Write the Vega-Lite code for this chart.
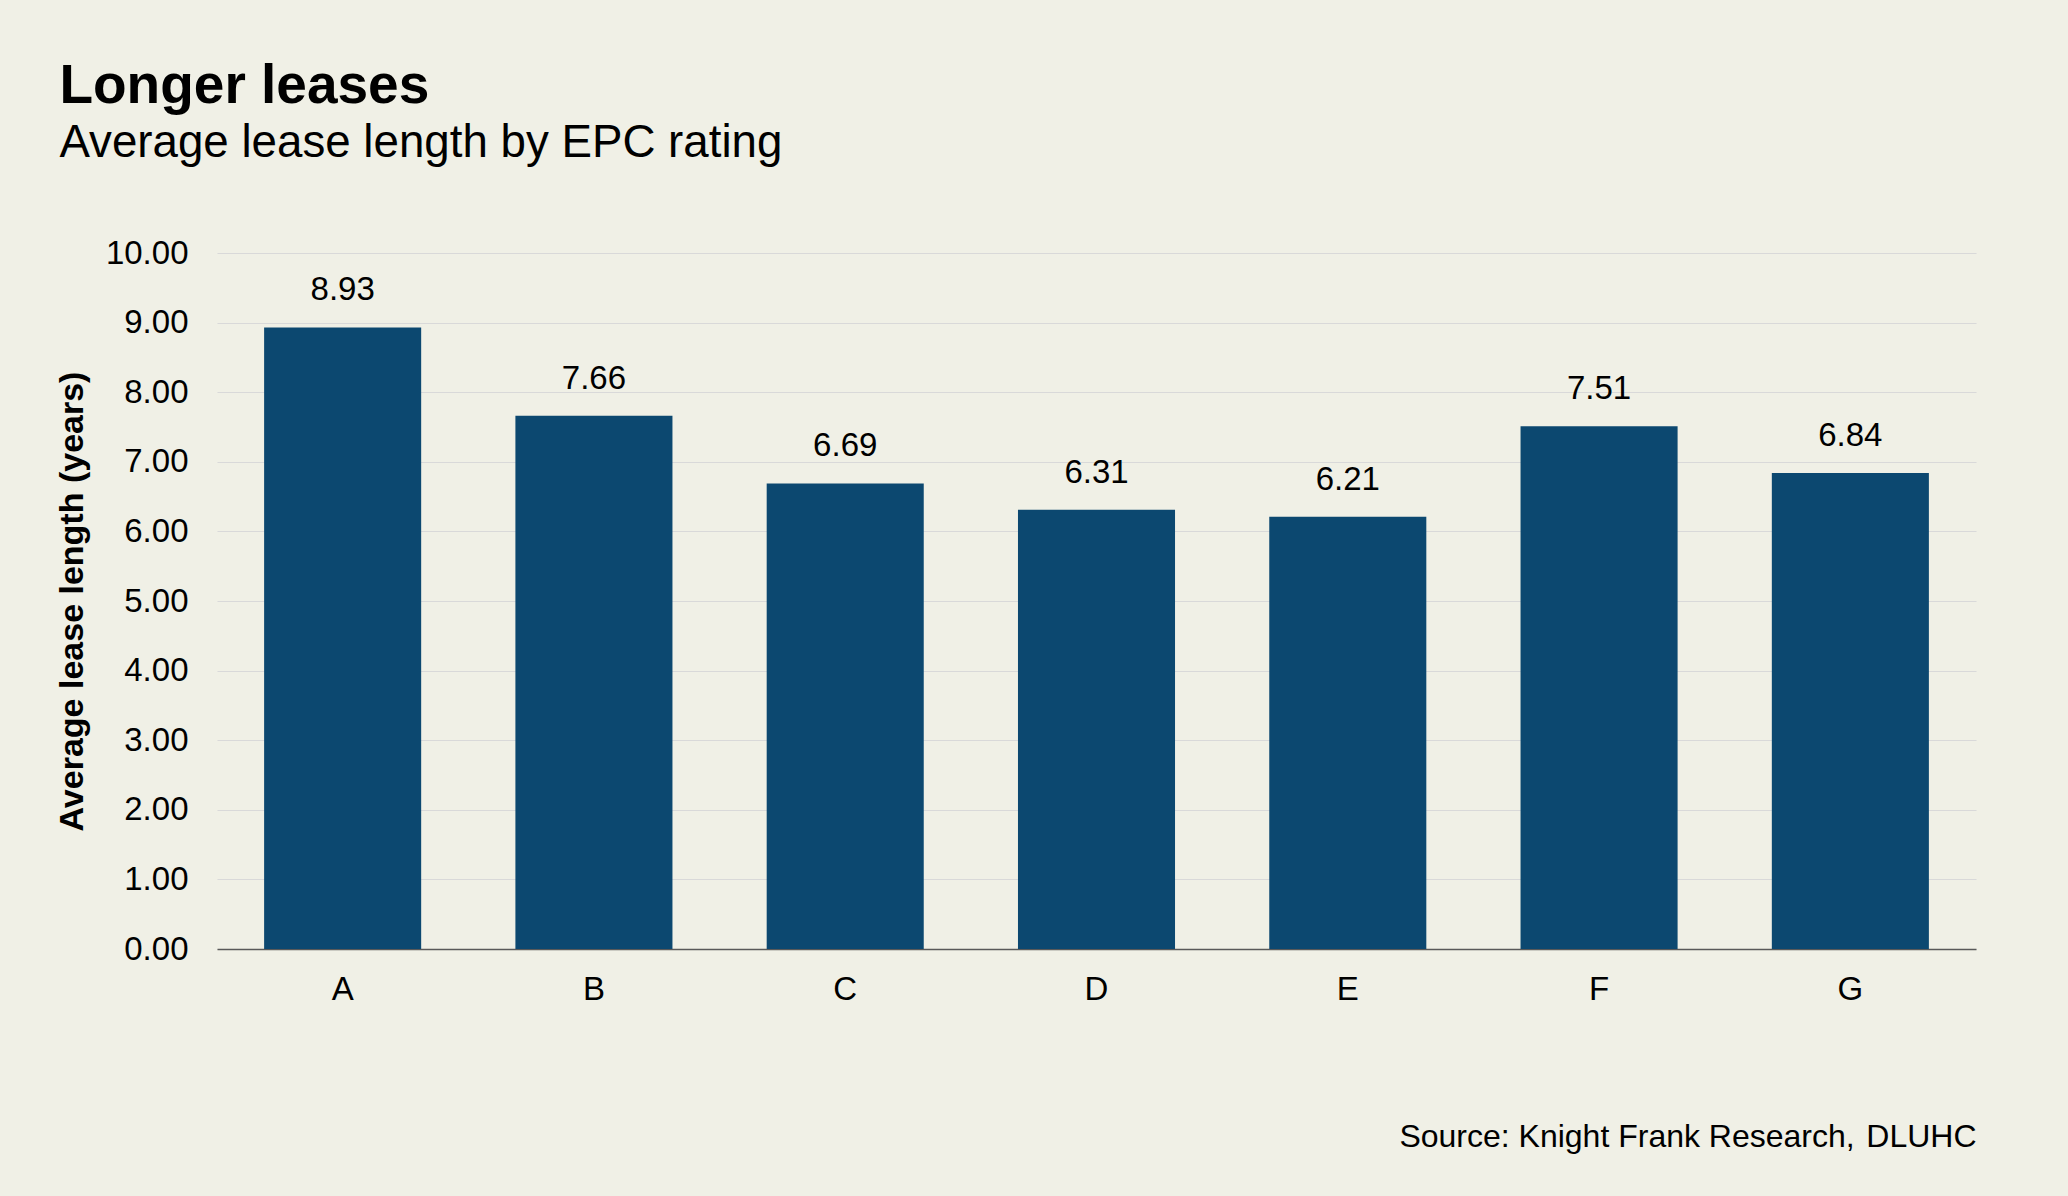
{
  "$schema": "https://vega.github.io/schema/vega-lite/v6.json",
  "width": 1759,
  "height": 696,
  "autosize": {"type": "pad"},
  "padding": {"left": 55, "top": 59, "right": 92, "bottom": 46},
  "background": "#F0F0E6",
  "title": {
    "text": "Longer leases",
    "subtitle": "Average lease length by EPC rating",
    "anchor": "start",
    "frame": "bounds",
    "dx": 4,
    "font": "Liberation Sans",
    "fontSize": 55,
    "fontWeight": "bold",
    "color": "#000000",
    "subtitleFont": "Liberation Sans",
    "subtitleFontSize": 45.7,
    "subtitleColor": "#000000",
    "subtitlePadding": 6,
    "offset": 70
  },
  "config": {
    "view": {"stroke": null},
    "font": "Liberation Sans"
  },
  "data": {
    "values": [
      {"rating": "A", "years": 8.93},
      {"rating": "B", "years": 7.66},
      {"rating": "C", "years": 6.69},
      {"rating": "D", "years": 6.31},
      {"rating": "E", "years": 6.21},
      {"rating": "F", "years": 7.51},
      {"rating": "G", "years": 6.84}
    ]
  },
  "layer": [
    {
      "mark": {"type": "bar", "color": "#0C4870"},
      "encoding": {
        "x": {
          "field": "rating",
          "type": "nominal",
          "sort": null,
          "scale": {"paddingInner": 0.375, "paddingOuter": 0.1875},
          "axis": {
            "title": "Source: Knight Frank Research,\u200a DLUHC",
            "titleAnchor": "end",
            "titleAlign": "right",
            "titleFont": "Liberation Sans",
            "titleFontSize": 32,
            "titleFontWeight": "normal",
            "titleColor": "#000000",
            "titlePadding": 115,
            "labelAngle": 0,
            "labelFont": "Liberation Sans",
            "labelFontSize": 33,
            "labelColor": "#000000",
            "labelPadding": 24,
            "ticks": false,
            "tickSize": 0,
            "domainColor": "#595959",
            "domainWidth": 1.5,
            "grid": false
          }
        },
        "y": {
          "field": "years",
          "type": "quantitative",
          "scale": {"domain": [0, 10], "nice": false},
          "axis": {
            "title": "Average lease length (years)",
            "titleFont": "Liberation Sans",
            "titleFontSize": 34,
            "titleFontWeight": "bold",
            "titleColor": "#000000",
            "titlePadding": 16,
            "values": [0, 1, 2, 3, 4, 5, 6, 7, 8, 9, 10],
            "format": ".2f",
            "labelFont": "Liberation Sans",
            "labelFontSize": 33,
            "labelColor": "#000000",
            "labelPadding": 29,
            "ticks": false,
            "tickSize": 0,
            "domain": false,
            "grid": true,
            "gridColor": "#D9D9D9",
            "gridWidth": 1
          }
        }
      }
    },
    {
      "mark": {"type": "text", "baseline": "alphabetic", "dy": -27, "fontSize": 33, "font": "Liberation Sans", "color": "#000000"},
      "encoding": {
        "x": {"field": "rating", "type": "nominal", "sort": null},
        "y": {"field": "years", "type": "quantitative"},
        "text": {"field": "years", "type": "quantitative", "format": ".2f"}
      }
    }
  ]
}
